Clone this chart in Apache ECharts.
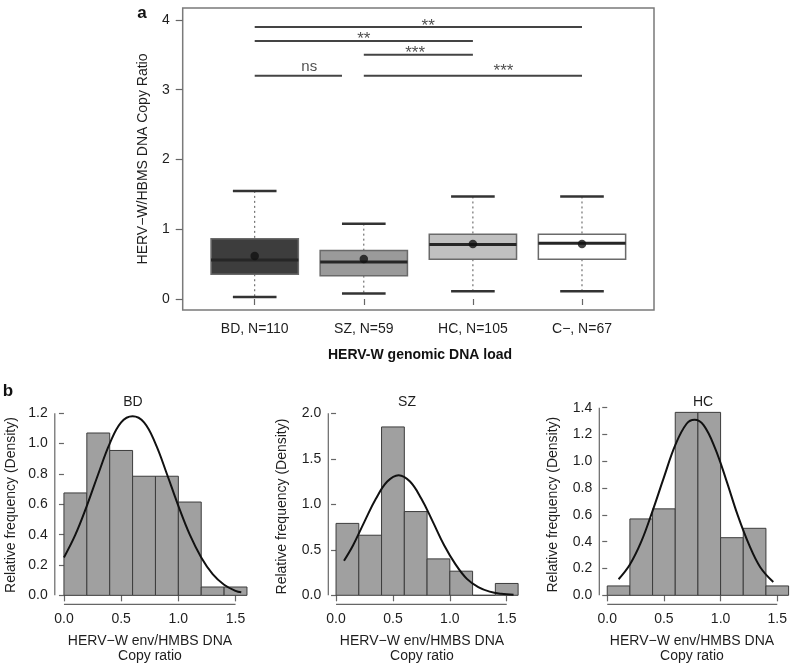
<!DOCTYPE html>
<html><head><meta charset="utf-8">
<script src="https://cdn.jsdelivr.net/npm/echarts@6/dist/echarts.min.js"></script>
<style>html,body{margin:0;padding:0;background:#fff}#c{width:790px;height:667px}</style>
</head><body><div id="c"></div>
<script>
// ---------- Panel a: box plot data ----------
const groups = ['BD, N=110', 'SZ, N=59', 'HC, N=105', 'C\u2212, N=67'];
const whiskerLow = [0.03, 0.08, 0.11, 0.11];
const q1 = [0.355, 0.335, 0.57, 0.57];
const median = [0.56, 0.53, 0.78, 0.80];
const q3 = [0.865, 0.695, 0.93, 0.93];
const whiskerHigh = [1.55, 1.08, 1.47, 1.47];
const means = [0.615, 0.575, 0.79, 0.79];
const outlierGroup = [2];
const outlierValue = [1.58];
const boxYTicks = [0, 1, 2, 3, 4];
// significance brackets
const bracketFrom = [1, 1, 2, 1, 2];
const bracketTo = [4, 3, 3, 1.8, 4];
const bracketY = [3.9, 3.7, 3.5, 3.2, 3.2];
const bracketText = ['**', '**', '***', 'ns', '***'];
const bracketTextX = [2.59, 2.0, 2.47, 1.5, 3.28];
const bracketTextY = [3.97, 3.775, 3.574, 3.34, 3.326];

// ---------- Panel b: histograms ----------
const binEdges = [0, 0.2, 0.4, 0.6, 0.8, 1.0, 1.2, 1.4, 1.6];
const bdDensity = [0.675, 1.07, 0.955, 0.785, 0.785, 0.615, 0.055, 0.055];
const szDensity = [0.79, 0.66, 1.85, 0.92, 0.40, 0.265, 0, 0.13];
const hcDensity = [0.07, 0.57, 0.645, 1.365, 1.365, 0.43, 0.50, 0.07];
const bdCurveX = [0, 0.1, 0.2, 0.3, 0.4, 0.5, 0.6, 0.7, 0.8, 0.9, 1.0, 1.1, 1.2, 1.3, 1.4, 1.5, 1.55];
const bdCurveY = [0.25, 0.40, 0.59, 0.80, 1.00, 1.14, 1.18, 1.14, 1.00, 0.80, 0.59, 0.40, 0.25, 0.14, 0.07, 0.03, 0.02];
const szCurveX = [0.07, 0.15, 0.25, 0.35, 0.45, 0.55, 0.65, 0.75, 0.85, 0.95, 1.05, 1.15, 1.25, 1.35, 1.45, 1.56];
const szCurveY = [0.38, 0.55, 0.81, 1.06, 1.25, 1.32, 1.25, 1.06, 0.81, 0.55, 0.34, 0.18, 0.09, 0.04, 0.016, 0.005];
const hcCurveX = [0.10, 0.2, 0.3, 0.4, 0.5, 0.6, 0.7, 0.77, 0.85, 0.95, 1.05, 1.15, 1.25, 1.35, 1.465];
const hcCurveY = [0.12, 0.23, 0.40, 0.63, 0.88, 1.12, 1.28, 1.31, 1.27, 1.10, 0.86, 0.60, 0.38, 0.21, 0.10];
const histXTicks = [0, 0.5, 1.0, 1.5];
const bdYTicks = [0, 0.2, 0.4, 0.6, 0.8, 1.0, 1.2];
const szYTicks = [0, 0.5, 1.0, 1.5, 2.0];
const hcYTicks = [0, 0.2, 0.4, 0.6, 0.8, 1.0, 1.2, 1.4];
const histTitles = ['BD', 'SZ', 'HC'];

// ---------- styling ----------
const FONT = "'Liberation Sans', Arial, Helvetica, sans-serif";
const TXT = '#1e1e1e';
const AX = '#666';
const boxFill = ['#3d3d3d', '#9a9a9a', '#c0c0c0', '#ffffff'];

const chart = echarts.init(document.getElementById('c'), null, {renderer: 'canvas'});

const grids = [
  {left: 182.7, top: 8, width: 471.3, height: 302, show: true, borderColor: '#7a7a7a', borderWidth: 1.5},
  {left: 54.8, top: 405.7, width: 197.9, height: 198.6},
  {left: 328.3, top: 408.75, width: 195.5, height: 195.55},
  {left: 599.3, top: 405, width: 190.4, height: 199.3}
];
const hx = [{min: -0.08, max: 1.65}, {min: -0.068, max: 1.65}, {min: -0.07, max: 1.6}];
const hy = [{min: -0.059, max: 1.25, ticks: bdYTicks}, {min: -0.099, max: 2.05, ticks: szYTicks}, {min: -0.067, max: 1.42, ticks: hcYTicks}];

const xAxes = [{
  gridIndex: 0, type: 'value', min: 0.34, max: 4.66,
  axisLine: {show: false}, splitLine: {show: false},
  axisTick: {show: true, customValues: [1, 2, 3, 4], length: 6, lineStyle: {color: AX, width: 1.2}},
  axisLabel: {customValues: [1, 2, 3, 4], formatter: v => groups[Math.round(v) - 1], margin: 12,
    fontSize: 14, color: TXT, fontFamily: FONT}
}];
const yAxes = [{
  gridIndex: 0, type: 'value', min: -0.1577, max: 4.172,
  axisLine: {show: false}, splitLine: {show: false},
  axisTick: {show: true, customValues: boxYTicks, length: 7, lineStyle: {color: AX, width: 1.2}},
  axisLabel: {customValues: boxYTicks, formatter: v => String(v), margin: 13, fontSize: 14, color: TXT, fontFamily: FONT},
  name: 'HERV\u2212W/HBMS DNA Copy Ratio', nameLocation: 'middle', nameGap: 33,
  nameTextStyle: {fontSize: 14, color: TXT, fontFamily: FONT}
}];
for (let k = 0; k < 3; k++) {
  xAxes.push({
    gridIndex: k + 1, type: 'value', min: hx[k].min, max: hx[k].max,
    axisLine: {show: false}, splitLine: {show: false},
    axisTick: {show: true, customValues: histXTicks, length: 6, lineStyle: {color: AX, width: 1.2}},
    axisLabel: {customValues: histXTicks, formatter: v => v.toFixed(1), margin: 8, fontSize: 14, color: TXT, fontFamily: FONT}
  });
  yAxes.push({
    gridIndex: k + 1, type: 'value', min: hy[k].min, max: hy[k].max,
    axisLine: {show: false}, splitLine: {show: false},
    axisTick: {show: true, customValues: hy[k].ticks, length: 5, lineStyle: {color: AX, width: 1.2}},
    axisLabel: {customValues: hy[k].ticks, formatter: v => v.toFixed(1), margin: 7, fontSize: 14, color: TXT, fontFamily: FONT},
    name: 'Relative frequency (Density)', nameLocation: 'middle', nameGap: k === 0 ? 37 : 39,
    nameTextStyle: {fontSize: 14, color: TXT, fontFamily: FONT}
  });
}

const series = [];
// boxes
series.push({
  type: 'custom', xAxisIndex: 0, yAxisIndex: 0, z: 2,
  data: groups.map((g, i) => [i + 1, whiskerLow[i], q1[i], median[i], q3[i], whiskerHigh[i]]),
  renderItem: (params, api) => {
    const x = api.value(0);
    const cx = api.coord([x, 0])[0];
    const half = api.size([0.4, 0])[0];
    const cap = api.size([0.2, 0])[0];
    const Y = v => api.coord([x, v])[1];
    const lo = Y(api.value(1)), a = Y(api.value(2)), m = Y(api.value(3)), b = Y(api.value(4)), hi = Y(api.value(5));
    const dash = {stroke: '#555', lineWidth: 1, lineDash: [2, 3]};
    const capS = {stroke: '#333', lineWidth: 2.5};
    return {type: 'group', children: [
      {type: 'line', shape: {x1: cx, y1: hi, x2: cx, y2: b}, style: dash},
      {type: 'line', shape: {x1: cx, y1: a, x2: cx, y2: lo}, style: dash},
      {type: 'line', shape: {x1: cx - cap, y1: hi, x2: cx + cap, y2: hi}, style: capS},
      {type: 'line', shape: {x1: cx - cap, y1: lo, x2: cx + cap, y2: lo}, style: capS},
      {type: 'rect', shape: {x: cx - half, y: b, width: 2 * half, height: a - b},
        style: {fill: boxFill[params.dataIndex], stroke: '#6a6a6a', lineWidth: 1.5}},
      {type: 'line', shape: {x1: cx - half, y1: m, x2: cx + half, y2: m}, style: {stroke: '#262626', lineWidth: 3}}
    ]};
  }
});
series.push({
  type: 'scatter', xAxisIndex: 0, yAxisIndex: 0, z: 5, symbolSize: 8.5, itemStyle: {color: '#111'},
  data: means.map((m, i) => [i + 1, m])
});
series.push({
  type: 'scatter', xAxisIndex: 0, yAxisIndex: 0, z: 5, symbol: 'emptyCircle', symbolSize: 7,
  itemStyle: {color: '#fff', borderColor: '#888', borderWidth: 1},
  data: outlierGroup.map((g, i) => [g, outlierValue[i]])
});
for (let i = 0; i < bracketY.length; i++) {
  series.push({
    type: 'line', xAxisIndex: 0, yAxisIndex: 0, symbol: 'none', silent: true,
    lineStyle: {color: '#444', width: 2},
    data: [[bracketFrom[i], bracketY[i]], [bracketTo[i], bracketY[i]]]
  });
}
series.push({
  type: 'scatter', xAxisIndex: 0, yAxisIndex: 0, symbolSize: 0, silent: true,
  data: bracketTextX.map((x, i) => ({
    name: bracketText[i], value: [x, bracketTextY[i]],
    label: bracketText[i] === 'ns'
      ? {show: true, position: 'inside', offset: [0, 1], formatter: '{b}', fontSize: 15, color: TXT, fontFamily: FONT}
      : {show: true, position: 'inside', offset: [0, 4], formatter: '{b}', fontSize: 17, color: TXT, fontFamily: FONT}
  }))
});

// histograms
const dens = [bdDensity, szDensity, hcDensity];
const curves = [[bdCurveX, bdCurveY], [szCurveX, szCurveY], [hcCurveX, hcCurveY]];
for (let k = 0; k < 3; k++) {
  series.push({
    type: 'custom', xAxisIndex: k + 1, yAxisIndex: k + 1, clip: false,
    data: dens[k].map((d, i) => [binEdges[i], binEdges[i + 1], d]),
    renderItem: (params, api) => {
      const p0 = api.coord([api.value(0), api.value(2)]);
      const p1 = api.coord([api.value(1), 0]);
      return {type: 'rect', shape: {x: p0[0], y: p0[1], width: p1[0] - p0[0], height: p1[1] - p0[1]},
        style: {fill: '#a0a0a0', stroke: '#3c3c3c', lineWidth: 1}};
    }
  });
  series.push({
    type: 'line', xAxisIndex: k + 1, yAxisIndex: k + 1, symbol: 'none', smooth: 0.4, z: 4, clip: false,
    lineStyle: {color: '#111', width: 2},
    data: curves[k][0].map((x, i) => [x, curves[k][1][i]])
  });
  // axis lines in R style (only over the tick range)
  const yt = hy[k].ticks;
  series.push({
    type: 'line', xAxisIndex: k + 1, yAxisIndex: k + 1, symbol: 'none', clip: false, silent: true,
    lineStyle: {color: AX, width: 1.2},
    data: [[histXTicks[0], hy[k].min], [histXTicks[histXTicks.length - 1], hy[k].min]]
  });
  series.push({
    type: 'line', xAxisIndex: k + 1, yAxisIndex: k + 1, symbol: 'none', clip: false, silent: true,
    lineStyle: {color: AX, width: 1.2},
    data: [[hx[k].min, yt[0]], [hx[k].min, yt[yt.length - 1]]]
  });
}

const titles = [
  {text: 'a', left: 142, top: 5, textAlign: 'center', textStyle: {fontSize: 17, fontWeight: 'bold', color: '#111', fontFamily: FONT}},
  {text: 'b', left: 8, top: 383, textAlign: 'center', textStyle: {fontSize: 17, fontWeight: 'bold', color: '#111', fontFamily: FONT}},
  {text: 'HERV-W genomic DNA load', left: 420, top: 348, textAlign: 'center', textStyle: {fontSize: 14, fontWeight: 'bold', color: '#111', fontFamily: FONT}},
  {text: histTitles[0], left: 133, top: 395, textAlign: 'center', textStyle: {fontSize: 14, fontWeight: 'normal', color: TXT, fontFamily: FONT}},
  {text: histTitles[1], left: 407, top: 395, textAlign: 'center', textStyle: {fontSize: 14, fontWeight: 'normal', color: TXT, fontFamily: FONT}},
  {text: histTitles[2], left: 703, top: 395, textAlign: 'center', textStyle: {fontSize: 14, fontWeight: 'normal', color: TXT, fontFamily: FONT}}
];
const xt = [150, 422, 692];
xt.forEach(x => titles.push({
  text: 'HERV\u2212W env/HMBS DNA\nCopy ratio', left: x, top: 634, textAlign: 'center',
  textStyle: {fontSize: 14, fontWeight: 'normal', color: TXT, fontFamily: FONT, lineHeight: 15, align: 'center'}
}));
titles.forEach(t => { t.padding = 0; t.itemGap = 0; });

chart.setOption({
  animation: false,
  backgroundColor: '#fff',
  title: titles,
  grid: grids,
  xAxis: xAxes,
  yAxis: yAxes,
  series: series
});
</script>
</body></html>
